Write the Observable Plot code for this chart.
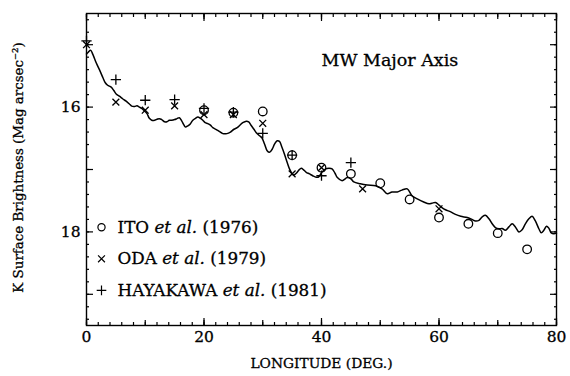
<!DOCTYPE html>
<html><head><meta charset="utf-8">
<script src="https://cdn.jsdelivr.net/npm/d3@7"></script>
<script src="https://cdn.jsdelivr.net/npm/@observablehq/plot@0.6"></script>
<style>body{margin:0;background:#fff} #chart{width:570px;height:376px} #chart svg text{stroke:#000;stroke-width:0.3px}</style>
</head><body><div id="chart"></div>
<script>
// Model curve (longitude in deg, K surface brightness in mag arcsec^-2)
const curveLon = [0.0,0.3,0.7,1.1,1.65,2.2,2.8,3.2,3.6,4.2,4.65,5.05,5.6,6.2,6.75,7.3,7.7,8.2,8.6,9.0,9.4,9.9,10.3,10.7,11.1,11.6,12.0,12.4,12.8,13.3,13.7,14.1,14.5,15.0,15.4,15.8,16.2,16.6,16.85,17.25,17.7,18.1,18.55,18.95,19.4,19.8,20.2,20.65,21.1,21.5,22.1,22.6,23.2,23.9,24.5,25.1,25.65,26.1,26.6,27.2,27.6,28.0,28.5,28.9,29.45,29.85,30.3,30.75,31.15,31.6,32.0,32.45,32.85,33.25,33.7,34.15,34.55,34.95,35.3,35.7,36.15,36.55,37.0,37.4,37.95,38.5,39.1,39.5,40.0,40.7,41.3,41.8,42.3,42.7,43.5,44.4,45.0,45.5,46.6,47.8,49.2,50.3,51.2,52.0,52.9,53.7,54.6,55.4,56.3,57.4,58.3,58.8,59.4,60.0,60.5,61.1,62.0,62.8,63.7,64.8,65.6,66.2,66.8,67.35,67.9,68.5,69.05,69.6,70.2,70.75,71.3,71.9,72.45,73.0,73.6,74.15,74.7,75.3,75.85,76.4,77.0,77.4,77.85,78.3,78.7,79.1,79.55,80.0];
const curveMag = [15.15,15.12,15.09,15.16,15.29,15.40,15.53,15.61,15.65,15.68,15.735,15.79,15.825,15.87,15.905,15.95,15.985,15.99,15.98,16.0,16.02,16.065,16.105,16.18,16.21,16.21,16.195,16.185,16.2,16.235,16.235,16.21,16.21,16.2,16.185,16.17,16.22,16.29,16.32,16.30,16.265,16.21,16.18,16.16,16.18,16.21,16.25,16.265,16.29,16.33,16.36,16.39,16.425,16.425,16.40,16.355,16.33,16.29,16.25,16.225,16.235,16.29,16.355,16.41,16.46,16.49,16.59,16.70,16.725,16.675,16.595,16.54,16.55,16.64,16.755,16.885,16.99,17.06,17.09,17.06,17.01,16.98,17.01,17.045,17.07,17.10,17.125,17.12,17.05,16.99,16.98,16.99,17.06,17.13,17.18,17.13,17.15,17.2,17.23,17.25,17.26,17.31,17.39,17.36,17.36,17.33,17.31,17.42,17.47,17.52,17.55,17.54,17.53,17.57,17.61,17.645,17.68,17.72,17.75,17.77,17.80,17.825,17.815,17.76,17.735,17.79,17.87,17.93,17.95,17.945,17.975,17.92,17.87,17.92,18.00,17.965,17.87,17.79,17.75,17.825,17.95,18.015,17.975,17.91,17.94,18.015,18.03,18.02];

// ITO et al. (1976)
const itoLon = [20,25,30,35,40,45,50,55,60,65,70,75];
const itoMag = [16.05,16.09,16.07,16.77,16.97,17.07,17.22,17.48,17.77,17.87,18.02,18.28];
// ODA et al. (1979)
const odaLon = [0,5,10,15,20,25,30,35,40,47,60];
const odaMag = [15.0,15.92,16.05,15.98,16.12,16.12,16.26,17.07,16.97,17.31,17.63];
// HAYAKAWA et al. (1981)
const hayLon = [0,5,10,15,20,25,30,35,40,45];
const hayMag = [14.94,15.56,15.89,15.88,16.02,16.08,16.42,16.77,17.1,16.89];

const legendNames = ["ITO", "ODA", "HAYAKAWA"];
const legendYears = ["(1976)", "(1979)", "(1981)"];
const legendSymbols = ["circle", "times", "plus"];

const xLabels = [0,20,40,60,80];
const yLabels = [16,18];
const titleText = "MW Major Axis";
const xTitle = "LONGITUDE (DEG.)";
const yTitle = "K Surface Brightness (Mag arcsec\u207B\u00B2)";

const zip = (a,b) => a.map((x,i)=>({lon:x, mag:b[i]}));
const curve = zip(curveLon, curveMag);
const ito = zip(itoLon, itoMag);
const oda = zip(odaLon, odaMag);
const hay = zip(hayLon, hayMag);

const xMinor = d3.range(0,81,2), xMid = d3.range(0,81,10), xMaj = d3.range(0,81,20);
const yMinor = d3.range(73,98).map(d=>d/5), yMaj = [15,16,17,18,19];

const font = "DejaVu Serif";
const tickAxes = [];
for (const a of ["bottom","top"]) {
  tickAxes.push(Plot.axisX({anchor:a, ticks:xMinor, tickSize:-3, fill:"none", label:null, strokeWidth:1.2}));
  tickAxes.push(Plot.axisX({anchor:a, ticks:xMid, tickSize:-5, fill:"none", label:null, strokeWidth:1.2}));
  tickAxes.push(Plot.axisX({anchor:a, ticks:xMaj, tickSize:-7, fill:"none", label:null, strokeWidth:1.2}));
}
for (const a of ["left","right"]) {
  tickAxes.push(Plot.axisY({anchor:a, ticks:yMinor, tickSize:-3, fill:"none", label:null, strokeWidth:1.2}));
  tickAxes.push(Plot.axisY({anchor:a, ticks:yMaj, tickSize:-7, fill:"none", label:null, strokeWidth:1.2}));
}

const legendMarks = [];
legendNames.forEach((n,i)=>{
  legendMarks.push(Plot.dot([0], {frameAnchor:"top-left", dx:15, dy:213.7 + i*31.6, symbol:legendSymbols[i], r: legendSymbols[i]==="circle"?3.6:3.2, stroke:"#000", strokeWidth:1.2}));
  legendMarks.push(Plot.text([`${n} et al. ${legendYears[i]}`], {frameAnchor:"top-left", dx:31, dy:213.7 + i*31.6, textAnchor:"start", lineAnchor:"middle", fontSize:16.8, fill:"#000"}));
});

const chart = Plot.plot({
  width:570, height:376,
  marginLeft:86, marginRight:14, marginTop:13, marginBottom:51,
  style:{fontFamily:font, background:"#fff", color:"#000"},
  x:{domain:[0,80]},
  y:{domain:[14.5,19.5], reverse:true},
  marks:[
    Plot.axisX({anchor:"bottom", ticks:xLabels, tickSize:0, tickPadding:5, fontSize:15.5, label:null, tickFormat:d=>String(d)}),
    Plot.axisY({anchor:"left", ticks:yLabels, tickSize:0, tickPadding:6, fontSize:15.5, label:null, tickFormat:d=>String(d)}),
    ...tickAxes,
    Plot.frame({stroke:"#000", strokeWidth:1.4}),
    Plot.line(curve, {x:"lon", y:"mag", stroke:"#000", strokeWidth:1.5, curve:"catmull-rom"}),
    Plot.dot(ito, {x:"lon", y:"mag", symbol:"circle", r:4.3, stroke:"#000", strokeWidth:1.3}),
    Plot.dot(oda, {x:"lon", y:"mag", symbol:"times", r:3.2, stroke:"#000", strokeWidth:1.3}),
    Plot.dot(hay, {x:"lon", y:"mag", symbol:"plus", r:3.4, stroke:"#000", strokeWidth:1.3}),
    Plot.text([titleText], {frameAnchor:"top-left", dx:235, dy:47, textAnchor:"start", lineAnchor:"middle", fontSize:17.5, fill:"#000"}),
    Plot.text([xTitle], {frameAnchor:"bottom", dy:38, textAnchor:"middle", lineAnchor:"middle", fontSize:13.8, fill:"#000"}),
    Plot.text([yTitle], {frameAnchor:"left", dx:-68, dy:-2, rotate:-90, textAnchor:"middle", lineAnchor:"middle", fontSize:13.4, fill:"#000"}),
    ...legendMarks
  ]
});
// italicise "et al." in the legend entries
chart.querySelectorAll("text").forEach(t => {
  const s = t.textContent;
  const m = s.match(/^(.*) et al\. (.*)$/);
  if (m && t.children.length === 0) {
    t.textContent = "";
    const ns = "http://www.w3.org/2000/svg";
    const a = document.createElementNS(ns,"tspan"); a.textContent = m[1] + " ";
    const b = document.createElementNS(ns,"tspan"); b.textContent = "et al."; b.setAttribute("font-style","italic");
    const c = document.createElementNS(ns,"tspan"); c.textContent = " " + m[2];
    t.append(a,b,c);
  }
});
document.getElementById("chart").appendChild(chart);
</script>
</body></html>
